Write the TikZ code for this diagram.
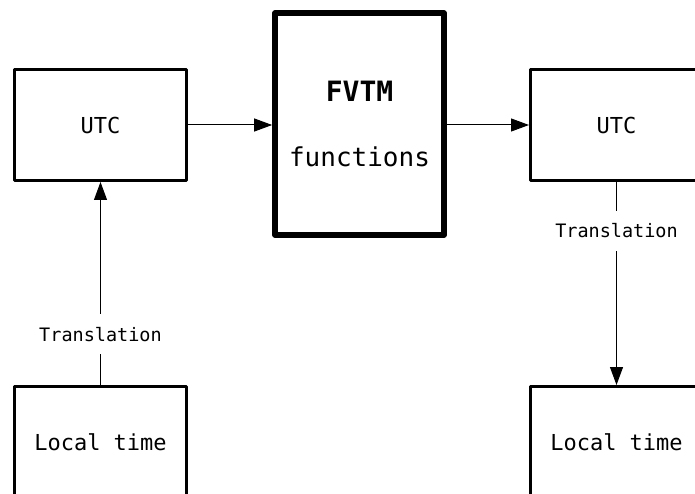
\documentclass[tikz,border=0pt]{standalone}
\usepackage{fontspec}
\setmonofont{DejaVu Sans Mono}
\usetikzlibrary{arrows.meta}

\tikzset{
  timebox/.style={draw, line width=3pt, line join=round, minimum width=172pt, minimum height=111pt, inner sep=0pt, font=\ttfamily\fontsize{22}{26}\selectfont},
  mainbox/.style={draw, line width=5.7pt, line join=round, minimum width=169pt, minimum height=222pt, align=center, font=\ttfamily\fontsize{26}{65}\selectfont},
  conv/.style={-{Triangle[length=18pt,width=13pt]}, line width=1pt},
  translabel/.style={fill=white, inner xsep=2pt, inner ysep=13pt, font=\ttfamily\fontsize{18.5}{22}\selectfont}
}

\begin{document}
\begin{tikzpicture}[x=1pt,y=-1pt]
  \useasboundingbox (0,0) rectangle (695,494);
  \clip (0,0) rectangle (695,494);
  % Boxes
  \node[timebox] (utcin) at (100.5,125) {UTC};
  \node[timebox] (localin) at (100.5,442) {Local time};
  \node[mainbox] (fvtm) at (359.5,124) {{\bfseries\fontsize{28}{28}\selectfont FVTM}\\functions};
  \node[timebox] (utcout) at (616.5,125) {UTC};
  \node[timebox] (localout) at (616.5,442) {Local time};
  % Arrows
  \draw[conv] (utcin.east) -- (utcin.east -| fvtm.west);
  \draw[conv] (fvtm.east |- utcout.west) -- (utcout.west);
  \draw[conv] (localin.north) -- node[translabel,pos=0.25] (translin) {Translation} (utcin.south);
  \draw[conv] (utcout.south) -- node[translabel,pos=0.24] (transout) {Translation} (localout.north);
\end{tikzpicture}
\end{document}
